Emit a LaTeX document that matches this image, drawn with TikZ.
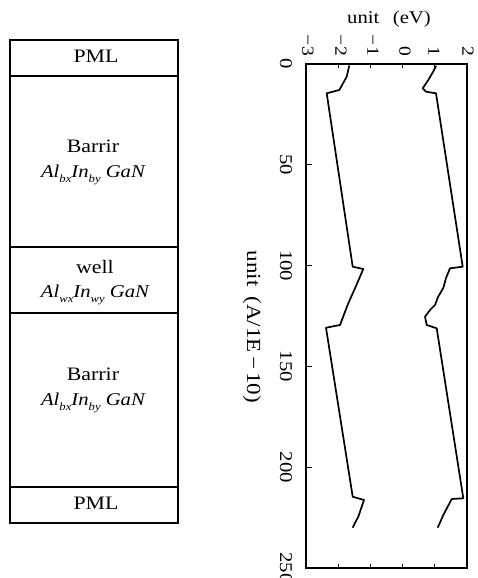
\documentclass[tikz,border=0pt]{standalone}
\usepackage{fontspec}
\setmainfont[FakeStretch=1.15]{Liberation Serif}
\newcommand\lsub[1]{\raisebox{-0.32em}{\fontsize{11}{11}\selectfont\itshape #1}}
\begin{document}
\begin{tikzpicture}[x=1pt,y=-1pt,
  layer/.style={line width=1.6pt},
  lbl/.style={font=\fontsize{19}{22}\selectfont, inner sep=0, anchor=base},
  frm/.style={font=\fontsize{18}{21}\selectfont\itshape, inner sep=0, anchor=base},
  band/.style={line width=1.7pt, line join=round},
  frame/.style={line width=2.1pt},
  tk/.style={line width=1.1pt},
  elbl/.style={font=\fontsize{17}{20}\selectfont, inner sep=0, rotate=-90, anchor=east},
  plbl/.style={font=\fontsize{18}{20}\selectfont, inner sep=0, rotate=-90},
  ttl/.style={font=\fontsize{18}{20}\selectfont, inner sep=0}]
\useasboundingbox (0,0) rectangle (478,578);
% ---- layer stack ----
\draw[layer] (10,40) rectangle (178,523);
\draw[layer] (10,76) -- (178,76);
\draw[layer] (10,247) -- (178,247);
\draw[layer] (10,313) -- (178,313);
\draw[layer] (10,487) -- (178,487);
\node[lbl] (pmlA) at (96,63) {PML};
\node[lbl] (barA) at (93,152) {Barrir};
\node[frm] (frmA) at (93,177) {Al\lsub{bx}In\lsub{by} GaN};
\node[lbl] (well) at (95,273) {well};
\node[frm] (frmW) at (95,297) {Al\lsub{wx}In\lsub{wy} GaN};
\node[lbl] (barB) at (93,380) {Barrir};
\node[frm] (frmB) at (93,405) {Al\lsub{bx}In\lsub{by} GaN};
\node[lbl] (pmlB) at (96,509) {PML};
% ---- band plot ----
\draw[frame] (306,64) rectangle (467,568);
\foreach \yy in {164.8,265.6,366.4,467.2} \draw[tk] (306,\yy) -- (312,\yy);
\foreach \xx in {338.2,370.4,402.6,434.8} {
  \draw[tk] (\xx,64) -- (\xx,68);
  \draw[tk] (\xx,568) -- (\xx,564);
}
\node[elbl] (e1) at (308,56) {−3};
\node[elbl] (e2) at (341,56) {−2};
\node[elbl] (e3) at (373,56) {−1};
\node[elbl] (e4) at (405,56) {0};
\node[elbl] (e5) at (434,56) {1};
\node[elbl] (e6) at (468,56) {2};
\node[plbl] (p0) at (286,64) {0};
\node[plbl] (p1) at (286,164.8) {50};
\node[plbl] (p2) at (286,265.6) {100};
\node[plbl] (p3) at (286,366.4) {150};
\node[plbl] (p4) at (286,467.2) {200};
\node[plbl] (p5) at (286,568) {250};
\node[ttl, anchor=base] (etitle) at (389,23.5) {unit\hspace{0.75em}(eV)};
\node[ttl, font=\fontsize{20}{22}\selectfont, rotate=-90, anchor=base] (ptitle) at (247,327) {unit\hspace{0.5em}(A/1E\,−\,10)};
% valence band
\draw[band] (349.3,65.5) -- (346.7,76.7) -- (339.3,90) -- (326.7,93.3)
  -- (352.7,266.7) -- (363.3,269) -- (356,286) -- (348,304) -- (340,325) -- (326,327.7)
  -- (352.7,496.7) -- (364,500) -- (358.3,516.7) -- (356,521) -- (352.7,527.7);
% conduction band
\draw[band] (436,66) -- (433,72) -- (428.3,80) -- (422.7,88.3) -- (426,91.7) -- (436,93.3)
  -- (462.7,266.7) -- (450,268.3) -- (446,278) -- (443.3,288) -- (438,297) -- (435,305)
  -- (430,310) -- (425,316.7) -- (426.7,325) -- (436.7,328.3)
  -- (463.3,498.3) -- (451.7,499) -- (443.3,515) -- (437.7,527.7);
\end{tikzpicture}
\end{document}
